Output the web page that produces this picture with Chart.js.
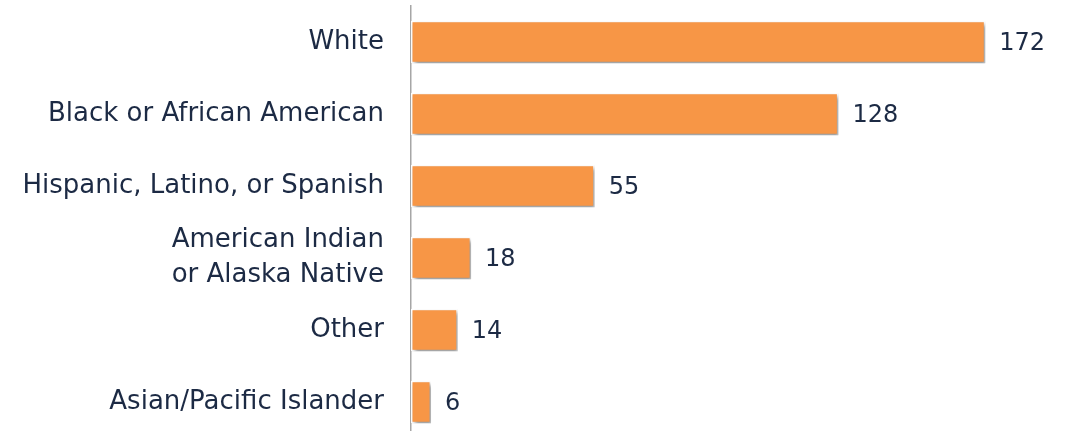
<!DOCTYPE html>
<html>
<head>
<meta charset="utf-8">
<script src="https://cdn.jsdelivr.net/npm/chart.js"></script>
<style>
  html, body { margin: 0; padding: 0; background: #fff; overflow: hidden; }
  #wrap { position: relative; width: 1068px; height: 438px; }
</style>
</head>
<body>
<div id="wrap"><canvas id="raceChart"></canvas></div>
<script>
// Chart data
const categories = [
    'White',
    'Black or African American',
    'Hispanic, Latino, or Spanish',
    ['American Indian', 'or Alaska Native'],
    'Other',
    'Asian/Pacific Islander'
];
const counts = [172, 128, 55, 18, 14, 6];

const textColor = '#1c2a44';
const fontFamily = "'DejaVu Sans', sans-serif";

// bar shadow, like the office style
const shadowPlugin = {
    id: 'barShadow',
    beforeDatasetsDraw(chart) {
        const ctx = chart.ctx;
        ctx.save();
        ctx.shadowColor = 'rgba(0, 0, 0, 0.4)';
        ctx.shadowBlur = 4;
        ctx.shadowOffsetX = 2;
        ctx.shadowOffsetY = 3;
    },
    afterDatasetsDraw(chart) {
        chart.ctx.restore();
    }
};

// value labels at the end of each bar
const valueLabels = {
    id: 'valueLabels',
    afterDatasetsDraw(chart) {
        const ctx = chart.ctx;
        const meta = chart.getDatasetMeta(0);
        ctx.save();
        ctx.fillStyle = textColor;
        ctx.font = '24px ' + fontFamily;
        ctx.textAlign = 'left';
        ctx.textBaseline = 'middle';
        meta.data.forEach((bar, i) => {
            ctx.fillText(String(counts[i]), bar.x + 14, bar.y + 2);
        });
        ctx.restore();
    }
};

const ctx = document.getElementById('raceChart');
new Chart(ctx, {
    type: 'bar',
    data: {
        labels: categories,
        datasets: [{
            data: counts,
            backgroundColor: '#f79646',
            borderColor: '#ffffff',
            borderWidth: 1.5,
            borderSkipped: false,
            categoryPercentage: 1,
            barPercentage: 0.59
        }]
    },
    options: {
        indexAxis: 'y',
        responsive: true,
        maintainAspectRatio: false,
        animation: false,
        layout: { padding: { top: 6, right: 56, bottom: 0, left: 0 } },
        plugins: {
            legend: { display: false },
            tooltip: { enabled: false }
        },
        scales: {
            x: {
                display: false,
                min: 0,
                max: 180
            },
            y: {
                afterFit(scale) {
                    scale.width = 411;
                    scale.paddingTop = 0;
                    scale.paddingBottom = 0;
                },
                grid: { display: false, drawTicks: false },
                border: { display: true, color: '#a6a6a6', width: 1.5 },
                ticks: {
                    autoSkip: false,
                    padding: 27,
                    color: textColor,
                    font: { family: fontFamily, size: 26, lineHeight: 1.35 }
                }
            }
        }
    },
    plugins: [shadowPlugin, valueLabels]
});
</script>
</body>
</html>
